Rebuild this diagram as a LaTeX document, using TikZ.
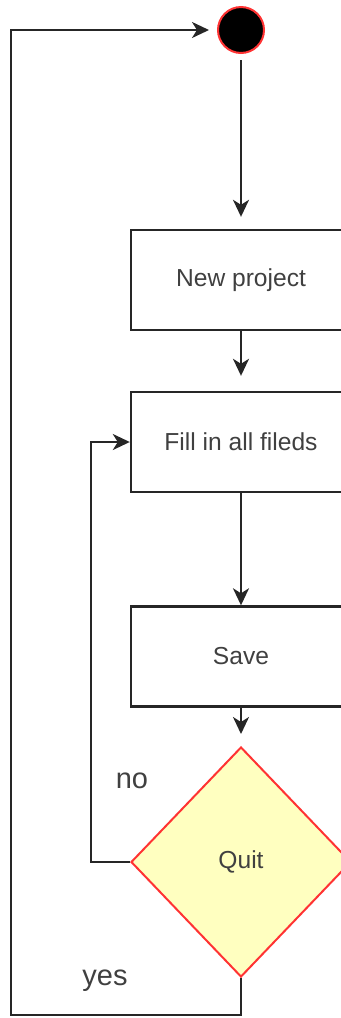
\documentclass[tikz,border=0pt]{standalone}
\usepackage{fontspec}
\setmainfont{Liberation Sans}
\usetikzlibrary{arrows.meta,shapes.geometric}
\definecolor{decfill}{HTML}{FFFFC0}
\definecolor{decline}{HTML}{FF3333}
\begin{document}
\begin{tikzpicture}[x=0.5pt,y=-0.5pt,line width=1.2pt,
  flow/.style={-{Stealth[length=8.5pt,width=8pt,inset=2.5pt]}},
  startdot/.style={circle,fill=black,draw=decline,line width=1pt,minimum size=23pt,inner sep=0pt},
  stepbox/.style={draw=black!85,rectangle,minimum width=110pt,minimum height=50pt,inner sep=0pt,
    font=\fontsize{12.3}{14}\selectfont,text=black!75},
  decision/.style={diamond,draw=decline,fill=decfill,line width=1pt,minimum width=110pt,
    minimum height=115pt,inner sep=0pt,font=\fontsize{12.3}{14}\selectfont,text=black!75},
  branch/.style={font=\fontsize{14.5}{17}\selectfont,text=black!75}]
\useasboundingbox (0,0) rectangle (341,1018);

% nodes
\node[startdot] (start) at (241,30) {};
\node[stepbox] (new) at (241,280) {New project};
\node[stepbox] (fill) at (241,442) {Fill in all fileds};
\node[stepbox] (save) at (241,656.5) {Save};
\node[decision] (quit) at (241,862) {Quit};

% branch labels
\node[branch] (nolbl) at (132,781) {no};
\node[branch] (yeslbl) at (105,981) {yes};

% bends of the two loops
\coordinate (nobend) at (91,862);
\coordinate (yesbend) at (11,1015);

% main flow
\begin{scope}[draw=black!85]
\draw[flow,shorten <=3pt,shorten >=6pt] (start) -- (new);
\draw[flow,shorten >=7.5pt] (new) -- (fill);
\draw[flow] (fill) -- (save);
\draw[flow,shorten >=6pt] (save) -- (quit);

% loops
\draw[flow] (quit.west) -- (nobend) |- (fill.west);
\draw[flow,shorten >=4pt] (quit.south) |- (yesbend) |- (start.west);
\end{scope}
\end{tikzpicture}
\end{document}
